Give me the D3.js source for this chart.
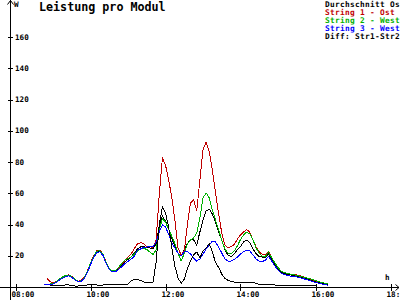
<!DOCTYPE html>
<html>
<head>
<meta charset="utf-8">
<script src="https://cdn.jsdelivr.net/npm/d3@7"></script>
<style>
  body { margin: 0; background: #fff; }
  svg { display: block; font-family: 'DejaVu Sans Mono', monospace; }
</style>
</head>
<body>
<svg id="chart"></svg>
<script>
var times = ["08:45","08:50","08:55","09:00","09:05","09:10","09:15","09:20","09:25","09:30","09:35","09:40","09:45","09:50","09:55",
  "10:00","10:05","10:10","10:15","10:20","10:25","10:30","10:35","10:40","10:45","10:50","10:55",
  "11:00","11:05","11:10","11:15","11:20","11:25","11:30","11:35","11:40","11:45","11:50","11:55",
  "12:00","12:05","12:10","12:15","12:20","12:25","12:30","12:35","12:40","12:45","12:50","12:55",
  "13:00","13:05","13:10","13:15","13:20","13:25","13:30","13:35","13:40","13:45","13:50","13:55",
  "14:00","14:05","14:10","14:15","14:20","14:25","14:30","14:35","14:40","14:45","14:50","14:55",
  "15:00","15:05","15:10","15:20","15:30","15:40","15:50","16:00","16:10","16:20"];

var avgOst = [null,1.7,1.8,2.0,3.0,4.6,5.9,6.9,7.3,6.4,4.8,3.4,3.7,5.7,9.5,
  14.6,19.1,22.3,22.9,20.4,15.3,11.4,10.0,10.1,11.8,13.9,16.1,
  17.6,19.2,21.8,24.3,25.6,25.9,25.3,25.0,24.6,27.5,39.0,45.4,
  42.2,37.1,31.4,25.9,21.8,19.8,23.7,27.8,30.1,30.1,26.9,35.2,
  42.9,48.6,49.9,46.7,41.6,35.2,30.1,23.7,20.5,19.5,21.1,24.0,
  25.9,28.8,30.1,28.2,24.3,21.4,19.5,19.2,19.2,21.1,17.6,14.4,
  11.8,9.6,8.6,7.7,7.0,6.1,4.8,3.5,2.2,1.3];

var string1 = [null,5.5,3.6,2.4,3.4,5.1,6.5,7.4,7.8,6.8,5.1,3.7,4.2,6.3,10.3,
  15.4,19.9,23.1,23.7,21.1,15.9,11.8,10.4,10.5,12.3,14.6,17.0,
  19.2,21.1,24.6,27.5,28.4,27.8,25.9,25.8,25.3,30.1,58.9,82.4,
  78.1,68.5,57.6,42.9,25.0,20.5,23.0,39.7,53.8,55.7,48.6,68.5,
  87.7,92.8,86.4,74.9,60.2,46.7,34.6,26.9,25.0,25.9,27.2,30.7,
  33.3,35.2,36.8,34.9,30.1,25.6,22.4,20.8,20.5,22.7,18.6,15.4,
  12.5,10.2,9.3,8.3,7.7,6.6,5.4,4.0,2.9,1.9];

var string2 = [null,1.8,1.9,2.2,3.3,5.0,6.4,7.3,7.6,6.6,5.0,3.6,4.0,6.1,10.0,
  15.2,19.6,22.8,23.3,20.8,15.7,11.7,10.4,10.6,12.6,15.0,17.3,
  18.2,19.2,21.0,23.0,24.3,24.8,24.0,22.4,20.8,23.7,36.5,43.8,
  41.6,37.1,32.6,27.8,21.8,16.6,21.4,27.5,30.1,31.4,34.6,44.2,
  57.0,60.2,57.0,49.3,42.9,36.5,30.1,24.3,21.8,21.4,23.0,26.2,
  30.4,33.3,35.2,33.9,30.1,25.0,21.4,19.8,19.8,22.4,18.6,15.4,
  12.5,10.2,9.2,8.3,7.4,6.4,5.4,4.2,2.9,1.9];

var string3 = [1.7,1.7,1.7,1.9,2.8,4.3,5.6,6.6,7.1,6.2,4.6,3.3,3.5,5.4,9.2,
  14.3,18.8,22.0,22.6,20.1,15.0,11.1,9.8,9.8,11.2,13.0,15.0,
  16.3,17.9,19.5,23.4,24.3,25.3,25.6,25.8,25.8,28.8,35.2,39.7,
  38.4,33.9,28.2,25.0,21.8,19.8,22.4,22.7,21.1,18.6,16.6,17.9,
  21.1,24.3,26.9,29.4,28.8,25.6,21.8,17.9,16.6,16.6,17.6,19.2,
  21.1,22.7,23.7,23.0,20.5,17.9,16.6,16.3,17.3,19.5,16.6,13.4,
  10.9,9.0,8.0,7.0,6.4,5.4,4.2,2.9,1.9,1.1];

var diff12 = [null,null,0.8,0.8,1.0,1.0,1.0,1.3,1.3,1.0,0.6,0.6,1.0,1.0,1.3,
  1.3,1.3,1.3,1.0,1.3,1.3,1.3,1.3,1.3,1.3,1.3,1.3,
  1.9,3.8,4.8,4.9,4.2,3.2,2.9,2.9,3.0,16.0,39.7,51.5,
  47.4,38.4,25.6,13.4,5.8,2.4,5.1,11.5,16.6,20.5,22.4,18.6,
  23.0,25.0,27.8,22.4,15.7,12.5,8.3,5.6,4.2,3.5,3.2,2.9,
  2.6,2.6,2.9,3.2,3.2,2.2,1.6,1.4,1.3,1.3,1.3,1.3,
  1.0,1.0,1.0,1.0,1.0,1.0,1.0,1.0,null,null];

// legend texts as they show in the picture (cut at the right edge there)
var seriesNames = ["Durchschnitt Os", "String 1 - Ost", "String 2 - West", "String 3 - West", "Diff: Str1-Str2"];
var seriesColors = ["#000000", "#c00000", "#00b000", "#0000ff", "#000000"];
var seriesValues = [avgOst, string1, string2, string3, diff12];

var xTicks = ["08:00", "10:00", "12:00", "14:00", "16:00", "18:00"];
var xTickLabels = ["08:00", "10:00", "12:00", "14:00", "16:00", "18:"];
var yTicks = [20, 40, 60, 80, 100, 120, 140, 160];

function toMinutes(s) {
  var p = s.split(":");
  return +p[0] * 60 + +p[1];
}

var width = 400,
    height = 300;

var svg = d3.select("#chart")
    .attr("width", width)
    .attr("height", height);

var x = d3.scaleLinear().domain([480, 1080]).range([15.5, 390.5]);
var y = d3.scaleLinear().domain([0, 160]).range([287, 37]);

// series, drawn in legend order
var line = d3.line()
    .defined(function(d) { return d.v !== null; })
    .x(function(d) { return x(d.t); })
    .y(function(d) { return y(d.v); });

seriesValues.forEach(function(vals, i) {
  var pts = times.map(function(t, j) { return { t: toMinutes(t), v: vals[j] }; });
  svg.append("path")
    .datum(pts)
    .attr("fill", "none")
    .attr("stroke", seriesColors[i])
    .attr("stroke-width", 1)
    .style("shape-rendering", "crispEdges")
    .attr("d", line);
});

// axes
var axisG = svg.append("g").attr("stroke", "#000").attr("stroke-width", 1)
    .style("shape-rendering", "crispEdges");
axisG.append("line").attr("x1", 10.5).attr("x2", 10.5).attr("y1", 0).attr("y2", 300);
axisG.append("line").attr("x1", 0).attr("x2", 399).attr("y1", 287.5).attr("y2", 287.5);

svg.append("path").attr("fill", "none").attr("stroke", "#000")
    .attr("d", "M7.5,4.5 L10.5,0.5 L13.5,4.5");
svg.append("path").attr("fill", "none").attr("stroke", "#000")
    .attr("d", "M395.5,284.5 L399,287.5 L395.5,290.5");

axisG.selectAll(".ytick").data(yTicks).enter().append("line")
    .attr("x1", 8).attr("x2", 13)
    .attr("y1", function(d) { return Math.round(y(d)) + 0.5; })
    .attr("y2", function(d) { return Math.round(y(d)) + 0.5; });

var small = { size: "7.6px", weight: "bold" };

svg.selectAll(".ylab").data(yTicks).enter().append("text")
    .attr("x", 15)
    .attr("y", function(d) { return y(d); })
    .attr("dy", "0.35em")
    .style("font-size", small.size)
    .style("font-weight", small.weight)
    .text(function(d) { return d; });

axisG.selectAll(".xtick").data(xTicks).enter().append("line")
    .attr("x1", function(d) { return Math.round(x(toMinutes(d))) + 0.5; })
    .attr("x2", function(d) { return Math.round(x(toMinutes(d))) + 0.5; })
    .attr("y1", 284).attr("y2", 291);

svg.selectAll(".xlab").data(xTickLabels).enter().append("text")
    .attr("x", function(d, i) { return x(toMinutes(xTicks[i])) - 4; })
    .attr("y", 297)
    .style("font-size", small.size)
    .style("font-weight", small.weight)
    .text(function(d) { return d; });

svg.append("text").attr("x", 14).attr("y", 7)
    .style("font-size", small.size).style("font-weight", small.weight).text("W");
svg.append("text").attr("x", 385).attr("y", 280)
    .style("font-size", small.size).style("font-weight", small.weight).text("h");

// title
svg.append("text")
    .attr("x", 39).attr("y", 11)
    .style("font-size", "11.7px")
    .style("font-weight", "bold")
    .text("Leistung pro Modul");

// legend
svg.selectAll(".legend").data(seriesNames).enter().append("text")
    .attr("x", 325)
    .attr("y", function(d, i) { return 7 + i * 8; })
    .style("font-size", "7.8px")
    .style("letter-spacing", "0.3px")
    .style("font-weight", "bold")
    .attr("fill", function(d, i) { return seriesColors[i]; })
    .text(function(d) { return d; });
</script>
</body>
</html>
